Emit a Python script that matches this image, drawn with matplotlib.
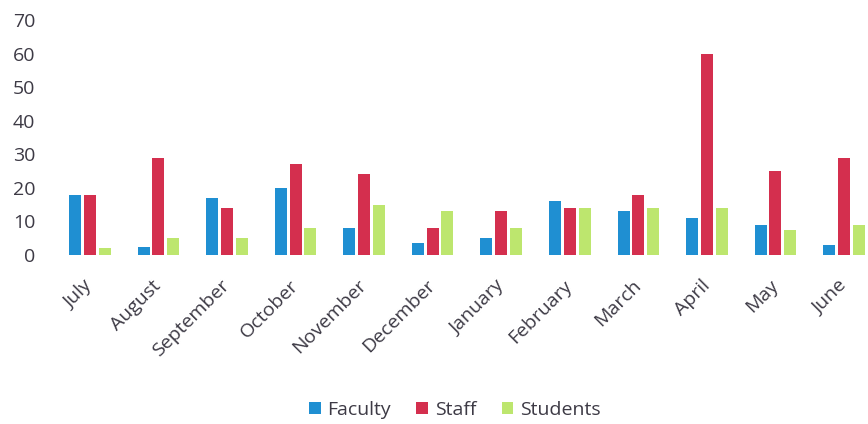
import numpy as np
import matplotlib
matplotlib.use("Agg")
import matplotlib.pyplot as plt

# данные по месяцам
months = ["July", "August", "September", "October", "November", "December",
          "January", "February", "March", "April", "May", "June"]
faculty = [18, 2.5, 17, 20, 8, 3.5, 5, 16, 13, 11, 9, 3]
staff = [18, 29, 14, 27, 24, 8, 13, 14, 18, 60, 25, 29]
students = [2, 5, 5, 8, 15, 13, 8, 14, 14, 14, 7.5, 9]

plt.rcParams["font.family"] = ["Open Sans", "DejaVu Sans"]
text_color = "#3d3a45"

fig = plt.figure(figsize=(8.68, 4.24), dpi=100)
ax = fig.add_axes([59 / 868, 1 - 255 / 424, (868 - 59) / 868, (255 - 20) / 424])

x = np.arange(len(months))
step = 0.215
width = 0.175
ax.bar(x - step, faculty, width=width, color="#1f8fd2", label="Faculty")
ax.bar(x, staff, width=width, color="#d42f4e", label="Staff")
ax.bar(x + step, students, width=width, color="#bde66e", label="Students")

ax.set_xlim(-0.45, 11.35)
ax.set_ylim(0, 70)
ax.set_yticks(range(0, 71, 10))
ax.set_xticks(x)
ax.set_xticklabels(months, rotation=45, ha="right", va="center", rotation_mode="anchor")

for s in ax.spines.values():
    s.set_visible(False)
ax.tick_params(axis="y", length=0, pad=17, labelsize=14, labelcolor=text_color)
ax.tick_params(axis="x", length=0, pad=20, labelsize=14, labelcolor=text_color)

leg = fig.legend(loc="center", bbox_to_anchor=(0.524, 1 - 410 / 424), ncol=3, frameon=False,
                 fontsize=14, handlelength=0.6, handleheight=0.6, handletextpad=0.35,
                 columnspacing=1.3)
for t in leg.get_texts():
    t.set_color(text_color)

fig.savefig("out.png", dpi=100)
